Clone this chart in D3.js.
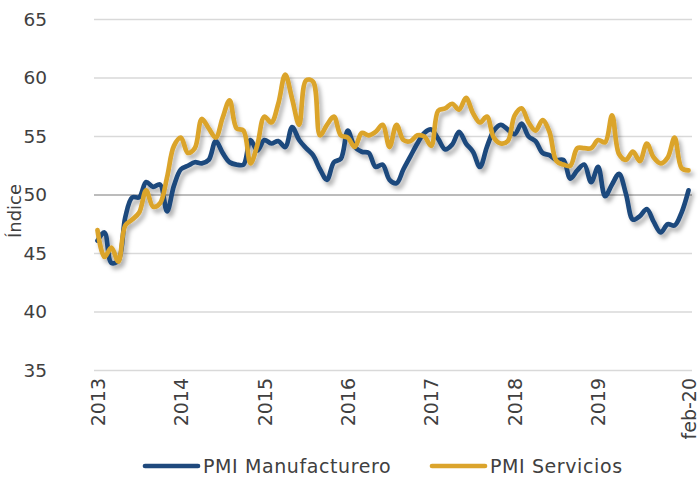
<!DOCTYPE html>
<meta charset="utf-8">
<style>
  body { margin: 0; background: #fff; }
  text { font-family: "DejaVu Sans", sans-serif; fill: #404040; }
</style>
<svg width="699" height="477"></svg>
<script src="https://cdnjs.cloudflare.com/ajax/libs/d3/7.8.5/d3.min.js"></script>
<script>

// monthly PMI, jan-2013 .. feb-2020
var manufacturero = [
  46.1, 46.8, 44.2, 44.4, 48.1, 49.8, 49.8, 51.1, 50.7, 50.9, 48.6, 50.8,
  52.2, 52.5, 52.8, 52.7, 53.0, 54.6, 53.6, 52.8, 52.6, 52.6, 54.7, 53.8,
  54.7, 54.4, 54.6, 54.1, 55.8, 54.7, 54.0, 53.4, 52.2, 51.3, 52.8, 53.1,
  55.5, 54.1, 53.7, 53.6, 52.4, 52.6, 51.3, 51.0, 52.2, 53.3, 54.4, 55.3,
  55.6, 54.8, 53.9, 54.3, 55.4, 54.4, 53.7, 52.4, 54.1, 55.5, 56.0, 55.6,
  55.2, 56.1, 55.0, 54.6, 53.6, 53.4, 53.0, 53.0, 51.4, 52.1, 52.6, 51.1,
  52.4, 49.9, 50.9, 51.8, 50.1, 47.9, 48.2, 48.8, 47.7, 46.8, 47.5, 47.4,
  48.5, 50.4
];
var servicios = [
  47.0, 44.7, 45.5, 44.3, 47.4, 47.9, 48.5, 50.4, 49.0, 49.3, 51.5, 54.2,
  54.9, 53.6, 54.0, 56.5, 55.7, 54.9, 56.6, 58.1, 55.7, 55.5, 52.7, 54.3,
  56.7, 56.2, 57.8, 60.3, 58.2, 56.0, 59.8, 59.7, 55.1, 56.0, 56.7, 55.1,
  54.9, 54.1, 55.3, 55.1, 55.4, 56.0, 54.1, 56.0, 54.7, 54.6, 55.1, 55.0,
  54.2, 57.2, 57.4, 57.8, 57.3, 58.3, 57.0, 56.2, 56.7, 54.9, 54.4, 54.6,
  56.8, 57.4, 56.2, 55.5, 56.4, 55.4, 52.9, 52.6, 52.5, 54.0, 54.0, 54.0,
  54.7, 54.5, 56.8, 53.5, 53.0, 53.7, 52.9, 54.4, 53.2, 52.7, 53.2, 54.9,
  52.3, 52.1
];
var tickLabels = ["2013", "2014", "2015", "2016", "2017", "2018", "2019", "feb-20"];
var tickIndex = [0, 12, 24, 36, 48, 60, 72, 85];
var yTicks = [35, 40, 45, 50, 55, 60, 65];

var svg = d3.select("svg");
var months = d3.range(manufacturero.length);

var x = d3.scalePoint().domain(months).range([94, 692]).padding(0.5),
    y = d3.scaleLinear().domain([35, 65]).range([370.5, 19.5]);

var defs = svg.append("defs");
var f = defs.append("filter").attr("id", "shadow")
  .attr("x", "-5%").attr("y", "-10%").attr("width", "115%").attr("height", "130%");
f.append("feDropShadow").attr("dx", 3).attr("dy", 4).attr("stdDeviation", 2.2)
  .attr("flood-color", "#000").attr("flood-opacity", 0.3);

// grid
svg.append("g").selectAll("line")
  .data(yTicks)
  .enter().append("line")
  .attr("x1", 94).attr("x2", 692)
  .attr("y1", function(d) { return y(d); })
  .attr("y2", function(d) { return y(d); })
  .attr("stroke", function(d) { return d == 50 ? "#a6a6a6" : "#d9d9d9"; })
  .attr("stroke-width", 1.5);

// y axis labels
var yAxis = svg.append("g")
  .attr("transform", "translate(47,0)")
  .call(d3.axisLeft(y).tickValues(yTicks).tickSize(0).tickPadding(0));
yAxis.select(".domain").remove();
yAxis.selectAll("text").style("font-size", "18.5px").attr("fill", "#404040")
  .style("font-family", "'DejaVu Sans', sans-serif");

svg.append("text")
  .attr("transform", "translate(15,211) rotate(-90)")
  .attr("text-anchor", "middle")
  .attr("dy", "0.35em")
  .style("font-size", "18px")
  .text("Índice");

// x axis labels
var xAxis = svg.append("g")
  .attr("transform", "translate(0,377)")
  .call(d3.axisBottom(x).tickValues(tickIndex).tickSize(0).tickPadding(0)
    .tickFormat(function(d) { return tickLabels[tickIndex.indexOf(d)]; }));
xAxis.select(".domain").remove();
xAxis.selectAll("text")
  .attr("transform", "rotate(-90)")
  .attr("text-anchor", "end")
  .attr("x", -1).attr("y", 0).attr("dy", "0.35em")
  .attr("fill", "#404040")
  .style("font-size", "19px")
  .style("font-family", "'DejaVu Sans', sans-serif");

// lines
var series = [
  {name: "PMI Manufacturero", values: manufacturero, color: "#1f497d"},
  {name: "PMI Servicios", values: servicios, color: "#dba42c"}
];

var line = d3.line()
  .x(function(d, i) { return x(i); })
  .y(function(d) { return y(d); })
  .curve(d3.curveCatmullRom.alpha(0.5));

svg.append("g").attr("filter", "url(#shadow)").selectAll("path")
  .data(series)
  .enter().append("path")
  .attr("d", function(d) { return line(d.values); })
  .attr("fill", "none")
  .attr("stroke", function(d) { return d.color; })
  .attr("stroke-width", 4.7)
  .attr("stroke-linejoin", "round")
  .attr("stroke-linecap", "round");

// legend
var legendX = [145, 432];
var legend = svg.append("g").selectAll("g")
  .data(series)
  .enter().append("g")
  .attr("transform", function(d, i) { return "translate(" + legendX[i] + ",466)"; });
legend.append("line")
  .attr("x1", 0).attr("x2", 53)
  .attr("stroke", function(d) { return d.color; })
  .attr("stroke-width", 4.7)
  .attr("stroke-linecap", "round");
legend.append("text")
  .attr("x", 58).attr("dy", "0.35em")
  .style("font-size", "19px")
  .style("letter-spacing", "0.6px")
  .text(function(d) { return d.name; });

</script>
